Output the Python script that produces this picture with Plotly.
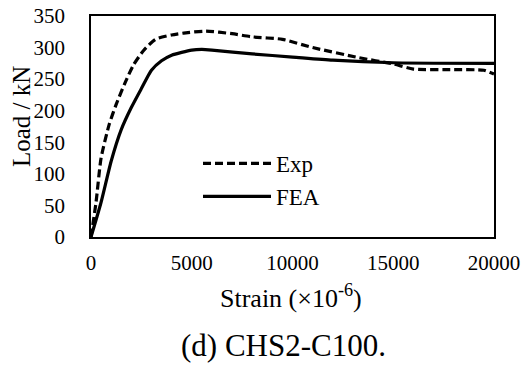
import plotly.graph_objects as go

exp_strain = [0, 250, 500, 900, 1250, 1700, 2100, 2600, 3200, 4000, 4600, 5700, 7000, 8000, 9500, 11000, 13300, 15000, 16000, 18000, 19500, 20000]
exp_load = [0, 55, 125, 178, 210, 245, 272, 295, 313, 320, 323, 326, 322, 317, 313, 300, 284, 274, 266, 265, 264, 258]

fea_strain = [0, 500, 1000, 1500, 2000, 2500, 3000, 3500, 4000, 5000, 5500, 6000, 8000, 10000, 12000, 15000, 20000]
fea_load = [0, 55, 120, 170, 205, 235, 264, 279, 288, 296, 297, 296, 290, 285, 280, 276, 275]

x_ticks = [0, 5000, 10000, 15000, 20000]
y_ticks = [0, 50, 100, 150, 200, 250, 300, 350]

FONT = "'Times New Roman', 'Liberation Serif', serif"

fig = go.Figure()
fig.add_trace(go.Scatter(x=exp_strain, y=exp_load, mode="lines", name="Exp", legendgroup="a",
                         line=dict(color="black", width=3.2, dash="8px,4px", shape="spline", smoothing=0.6)))
fig.add_trace(go.Scatter(x=fea_strain, y=fea_load, mode="lines", name="FEA", legendgroup="b",
                         line=dict(color="black", width=3.2, shape="spline", smoothing=0.6)))

L, R, T, B = 91, 31, 16, 130
plot_h = 367 - T - B
plot_w = 525 - L - R

def px_to_paper(px, py):
    return (px - L) / plot_w, (367 - B - py) / plot_h

ax, ay = px_to_paper(21, 117)
bx, by = px_to_paper(291, 296)
cx, cy = px_to_paper(283, 345)
lx, ly = px_to_paper(198, 142)

fig.update_layout(
    width=525, height=367,
    margin=dict(l=L, r=R, t=T, b=B, autoexpand=False),
    paper_bgcolor="white", plot_bgcolor="white",
    font=dict(family=FONT, size=21, color="black"),
    showlegend=True,
    legend=dict(x=lx, y=ly, xanchor="left", yanchor="top",
                bgcolor="rgba(0,0,0,0)", itemwidth=68, traceorder="grouped", tracegroupgap=0,
                font=dict(family=FONT, size=23, color="black")),
    xaxis=dict(range=[0, 20000], tickvals=x_ticks, ticktext=[str(v) for v in x_ticks],
               showgrid=False, zeroline=False, automargin=False,
               showline=True, linecolor="black", linewidth=1.5, mirror=True,
               ticks="", ticklabelstandoff=6, tickfont=dict(family=FONT, size=21, color="black")),
    yaxis=dict(range=[0, 350], tickvals=y_ticks, ticktext=[str(v) for v in y_ticks],
               showgrid=False, zeroline=False, automargin=False,
               showline=True, linecolor="black", linewidth=1.5, mirror=True,
               ticks="", ticklabelstandoff=20, tickfont=dict(family=FONT, size=21, color="black")),
    annotations=[
        dict(text="Load / kN", x=ax, y=ay, xref="paper", yref="paper", showarrow=False,
             xanchor="center", yanchor="middle",
             textangle=-90, font=dict(family=FONT, size=25, color="black")),
        dict(text="Strain (×10<sup>-6</sup>)", x=bx, y=by, xref="paper", yref="paper",
             xanchor="center", yanchor="middle",
             showarrow=False, font=dict(family=FONT, size=26, color="black")),
        dict(text="(d) CHS2-C100.", x=cx, y=cy, xref="paper", yref="paper",
             xanchor="center", yanchor="middle",
             showarrow=False, font=dict(family=FONT, size=31, color="black")),
    ],
)

fig.write_html("out.html")
